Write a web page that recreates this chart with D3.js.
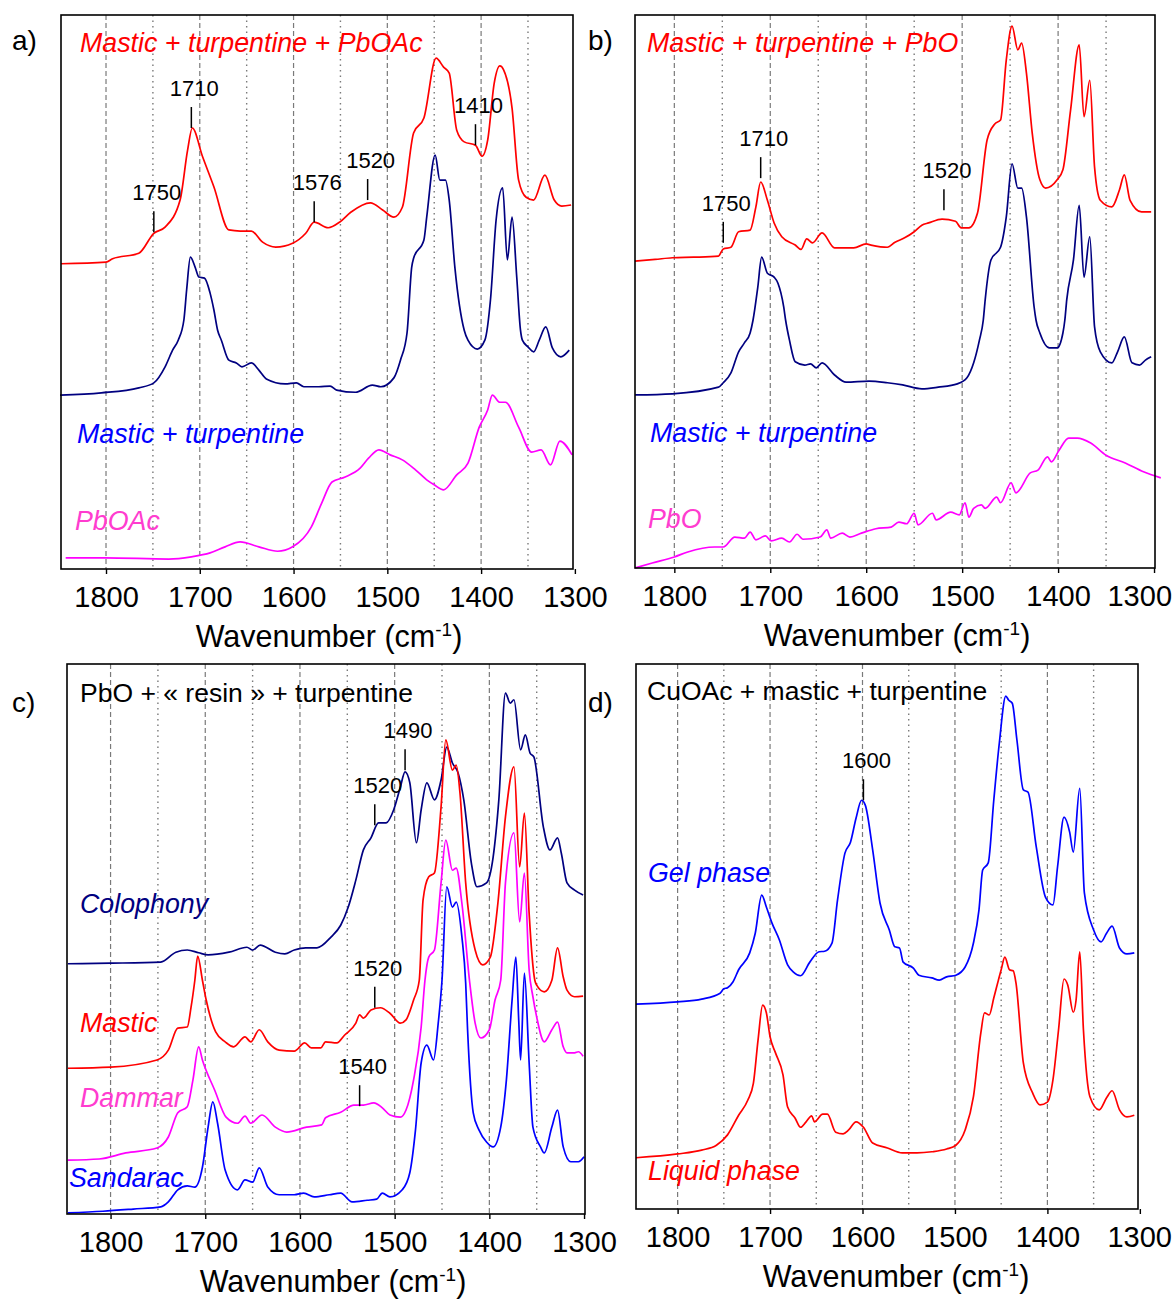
<!DOCTYPE html>
<html>
<head>
<meta charset="utf-8">
<script src="https://cdn.jsdelivr.net/npm/d3@7"></script>
<style>
    body { margin: 0; background: #fff; }
    svg { display: block; font-family: "Liberation Sans", Arial, sans-serif; }
</style>
</head>
<body>
<svg id="chart" width="1176" height="1299"></svg>
<script>
// wavenumber ticks and grid
var wnTicks = [1800, 1700, 1600, 1500, 1400, 1300];
var gridMajor = [1800, 1700, 1600, 1500, 1400];
var gridMinor = [1750, 1650, 1550, 1450, 1350];

// a) [wavenumber, absorbance a.u. with offset]
var aMixPbOAc = [[1848,55.1],[1800,55.4],[1793,56.0],[1765,57.0],[1749,60.6],[1737,61.7],[1721,66.6],[1713,75.6],[1708,79.6],[1697,74.4],[1685,69.0],[1669,61.2],[1657,61.0],[1645,61.0],[1633,59.0],[1619,58.1],[1601,58.8],[1587,60.6],[1578,62.6],[1563,61.6],[1551,62.6],[1539,64.4],[1518,66.1],[1505,64.8],[1493,63.5],[1484,65.3],[1472,78.7],[1461,81.4],[1448,92.2],[1440,90.6],[1434,89.5],[1426,79.2],[1418,77.1],[1406,76.5],[1399,74.5],[1393,77.4],[1386,87.7],[1380,90.8],[1376,90.1],[1367,83.2],[1360,70.2],[1352,67.1],[1344,66.6],[1332,71.1],[1322,66.6],[1314,65.5],[1304,65.7]];
var aMastic = [[1849,31.4],[1805,31.8],[1765,32.7],[1749,33.6],[1737,36.5],[1729,39.5],[1723,41.3],[1717,44.9],[1714,50.4],[1710,56.3],[1705,54.5],[1701,52.7],[1695,52.5],[1689,49.8],[1685,46.8],[1681,43.1],[1677,41.3],[1669,37.7],[1661,37.2],[1655,36.5],[1645,37.2],[1637,35.9],[1629,34.3],[1609,33.4],[1597,33.6],[1589,32.9],[1573,32.9],[1561,33.0],[1554,32.3],[1534,31.9],[1516,33.2],[1507,32.9],[1493,34.5],[1486,37.7],[1479,42.6],[1474,54.5],[1472,56.1],[1461,59.4],[1458,63.5],[1449,74.7],[1444,70.2],[1438,70.2],[1434,66.6],[1428,54.5],[1418,43.1],[1414,41.3],[1404,39.7],[1396,41.3],[1390,48.6],[1384,63.0],[1377,68.8],[1372,55.8],[1367,63.5],[1362,52.7],[1358,43.1],[1356,41.3],[1350,40.1],[1344,39.2],[1338,41.3],[1331,43.7],[1324,39.9],[1315,38.3],[1306,39.5]];
var aPbOAc = [[1843,2.0],[1801,2.0],[1733,1.8],[1709,2.2],[1689,2.9],[1673,4.0],[1657,4.9],[1637,4.0],[1617,3.2],[1601,4.0],[1581,7.6],[1570,11.9],[1559,15.7],[1545,16.6],[1529,18.2],[1520,20.0],[1509,21.5],[1497,20.6],[1484,19.7],[1470,17.9],[1458,16.1],[1450,15.2],[1440,14.3],[1426,17.0],[1414,19.1],[1402,25.6],[1393,28.7],[1388,31.4],[1380,30.1],[1374,30.1],[1360,25.6],[1346,21.1],[1336,21.5],[1326,18.8],[1316,23.1],[1303,20.6]];
// [label, wavenumber, absorbance at tick foot]
var aPeaks = [[1750,1749,60.8],[1710,1709,79.6],[1576,1578,62.6],[1520,1521,66.6],[1410,1406,76.5]];

// b)
var bMixPbO = [[1841,55.5],[1820,55.8],[1802,56.1],[1780,56.2],[1754,56.4],[1749,57.7],[1741,58.0],[1733,60.8],[1721,61.1],[1715,65.3],[1710,69.8],[1703,66.5],[1696,62.4],[1688,59.9],[1674,58.4],[1668,57.6],[1662,59.5],[1656,58.8],[1646,60.6],[1633,57.9],[1613,57.9],[1600,58.6],[1595,58.4],[1578,58.0],[1570,58.9],[1560,59.7],[1550,60.8],[1542,62.0],[1535,62.4],[1521,63.1],[1507,62.7],[1501,61.5],[1493,61.5],[1484,64.2],[1474,77.4],[1466,80.3],[1460,81.0],[1454,91.9],[1448,98.0],[1442,93.7],[1438,94.9],[1433,89.5],[1427,78.7],[1419,70.2],[1413,68.7],[1401,70.2],[1395,72.0],[1387,82.8],[1378,94.6],[1373,81.6],[1367,88.2],[1362,72.5],[1356,66.5],[1344,65.3],[1336,68.4],[1331,71.1],[1325,66.5],[1313,64.4],[1303,64.4]];
var bMastic = [[1841,31.3],[1802,31.5],[1754,32.7],[1749,33.5],[1741,35.3],[1733,39.1],[1727,40.7],[1721,42.5],[1718,44.8],[1713,50.8],[1709,56.2],[1703,53.3],[1696,52.6],[1692,51.5],[1686,47.2],[1684,44.8],[1680,41.2],[1674,37.3],[1664,36.7],[1658,36.9],[1652,36.2],[1646,37.1],[1633,34.9],[1621,33.6],[1597,33.8],[1578,33.5],[1562,33.1],[1542,32.4],[1525,32.7],[1505,33.3],[1495,34.4],[1488,37.1],[1482,41.2],[1478,44.8],[1476,48.5],[1470,55.7],[1460,58.0],[1454,63.5],[1448,73.1],[1442,68.7],[1438,68.7],[1433,63.5],[1425,47.2],[1423,44.8],[1419,42.5],[1409,39.8],[1401,39.8],[1395,42.5],[1393,44.8],[1391,48.5],[1384,55.7],[1378,65.6],[1373,52.6],[1367,59.9],[1362,43.6],[1356,39.1],[1344,37.1],[1338,39.1],[1331,41.8],[1323,37.1],[1315,36.7],[1309,37.6],[1303,38.2]];
var bPbO = [[1841,0.0],[1823,0.9],[1800,2.0],[1786,2.9],[1758,3.8],[1749,3.8],[1737,5.6],[1727,5.4],[1721,6.5],[1715,5.1],[1705,5.8],[1699,4.9],[1688,5.4],[1680,4.7],[1672,6.1],[1666,5.2],[1648,5.6],[1641,6.9],[1637,5.4],[1625,6.3],[1617,5.6],[1605,6.3],[1590,7.1],[1574,7.4],[1566,8.3],[1558,8.0],[1550,9.9],[1546,7.8],[1531,9.9],[1527,8.7],[1512,10.1],[1503,9.6],[1497,11.8],[1493,9.2],[1488,10.8],[1480,11.4],[1476,10.8],[1464,12.8],[1460,11.8],[1449,15.4],[1444,13.6],[1429,17.2],[1421,17.7],[1411,20.1],[1407,19.2],[1399,21.3],[1389,23.5],[1380,23.5],[1366,22.6],[1350,20.4],[1330,19.0],[1311,17.4],[1293,16.3]];
var bPeaks = [[1750,1749,58.8],[1710,1710,70.5],[1520,1519,64.7]];

// c)
var cColophony = [[1845,45.5],[1800,45.6],[1747,45.8],[1731,47.6],[1719,48.0],[1707,47.5],[1697,47.1],[1675,47.6],[1656,48.5],[1650,48.0],[1642,48.9],[1626,47.6],[1616,47.3],[1606,48.0],[1594,48.4],[1582,48.4],[1567,50.4],[1557,52.5],[1549,55.8],[1541,60.7],[1533,66.2],[1525,68.4],[1517,71.1],[1509,71.1],[1501,73.5],[1494,77.6],[1489,80.4],[1484,78.4],[1477,67.5],[1472,73.5],[1466,78.4],[1458,75.3],[1451,78.9],[1445,84.9],[1439,82.0],[1433,80.2],[1427,75.3],[1419,63.8],[1413,59.5],[1403,60.2],[1396,64.9],[1390,75.3],[1383,94.7],[1378,92.9],[1374,93.5],[1367,84.4],[1362,87.1],[1357,83.8],[1353,83.1],[1343,70.4],[1336,66.2],[1328,68.4],[1324,65.6],[1318,60.2],[1310,58.9],[1301,58.0]];
var cMastic = [[1845,26.5],[1800,26.7],[1751,28.0],[1739,29.8],[1729,33.8],[1719,34.0],[1715,37.6],[1711,42.5],[1708,46.9],[1703,42.5],[1699,38.9],[1689,33.1],[1679,31.3],[1670,30.4],[1658,32.2],[1652,31.3],[1643,33.5],[1634,31.3],[1622,29.8],[1606,29.6],[1595,31.1],[1588,30.2],[1578,30.2],[1573,31.3],[1561,31.1],[1553,32.5],[1541,34.7],[1537,36.2],[1533,35.6],[1525,37.1],[1515,37.5],[1505,36.5],[1494,34.7],[1488,35.3],[1480,38.9],[1474,42.5],[1470,57.1],[1464,61.3],[1458,62.0],[1451,74.0],[1446,86.2],[1439,80.7],[1435,81.6],[1431,76.5],[1425,60.2],[1415,48.0],[1407,45.3],[1399,46.7],[1391,56.5],[1383,72.2],[1374,81.3],[1368,63.1],[1363,72.9],[1358,54.7],[1352,42.5],[1350,41.6],[1342,40.4],[1334,42.5],[1328,48.4],[1322,43.1],[1318,40.7],[1310,39.5],[1301,39.6]];
var cDammar = [[1845,9.8],[1812,10.0],[1784,11.1],[1751,12.0],[1739,14.0],[1729,18.4],[1719,19.5],[1713,24.4],[1707,30.4],[1703,28.0],[1690,22.5],[1678,17.6],[1666,16.5],[1658,17.8],[1652,16.5],[1640,18.0],[1626,15.8],[1614,14.9],[1593,15.8],[1577,16.2],[1573,17.5],[1557,18.5],[1543,19.8],[1533,19.8],[1522,20.2],[1513,19.3],[1505,18.0],[1494,17.6],[1488,18.9],[1480,24.4],[1472,34.0],[1468,42.5],[1464,46.7],[1458,48.0],[1451,60.2],[1446,68.0],[1439,62.5],[1435,62.9],[1429,56.5],[1421,42.5],[1415,34.7],[1409,32.0],[1400,33.5],[1394,38.9],[1388,42.5],[1383,60.2],[1374,69.3],[1368,53.1],[1363,62.0],[1358,44.4],[1354,39.5],[1350,35.8],[1342,31.3],[1334,33.5],[1328,34.9],[1322,30.4],[1318,29.3],[1310,29.3],[1306,29.5],[1301,28.7]];
var cSandarac = [[1845,0.2],[1808,0.5],[1776,0.9],[1747,1.3],[1739,2.2],[1729,4.4],[1719,5.1],[1711,4.9],[1703,8.5],[1697,15.8],[1692,20.4],[1687,16.5],[1679,8.0],[1666,4.4],[1658,6.2],[1650,5.8],[1643,8.4],[1634,4.9],[1622,3.5],[1606,3.5],[1596,3.8],[1585,3.1],[1569,3.5],[1557,3.8],[1545,2.2],[1529,2.5],[1519,2.7],[1513,3.8],[1505,3.1],[1492,4.4],[1484,7.5],[1478,15.3],[1472,27.5],[1466,30.7],[1459,28.0],[1454,34.7],[1450,42.5],[1445,59.5],[1439,55.8],[1435,56.7],[1429,50.4],[1425,42.0],[1423,33.5],[1417,18.4],[1411,15.3],[1403,13.1],[1396,12.2],[1388,15.8],[1382,24.4],[1376,38.9],[1372,46.7],[1369,35.3],[1367,28.0],[1363,43.8],[1358,27.5],[1354,15.8],[1346,12.2],[1342,11.1],[1334,15.8],[1328,18.9],[1322,12.2],[1314,9.5],[1306,9.5],[1300,10.4]];
var cPeaks = [[1490,1489,80.7],[1520,1521,70.7],[1520,1521,37.5],[1540,1537,19.6]];

// d)
var dGel = [[1845,37.6],[1800,38.0],[1774,38.5],[1754,39.6],[1750,40.4],[1746,40.6],[1740,41.7],[1734,43.9],[1722,47.0],[1716,50.6],[1709,57.6],[1704,55.4],[1698,52.5],[1690,49.4],[1681,44.8],[1675,43.5],[1667,42.8],[1657,45.3],[1647,47.2],[1641,47.3],[1633,48.8],[1627,56.7],[1619,65.3],[1613,67.3],[1607,71.7],[1601,75.0],[1597,74.1],[1589,65.9],[1581,56.1],[1571,51.2],[1565,48.1],[1560,47.9],[1556,45.3],[1545,44.2],[1539,42.9],[1525,42.4],[1517,42.0],[1509,42.6],[1499,42.9],[1489,44.4],[1480,48.8],[1474,54.9],[1470,62.2],[1464,63.5],[1458,75.0],[1452,85.5],[1445,94.1],[1442,93.4],[1438,92.8],[1433,86.1],[1426,76.9],[1421,76.5],[1412,66.4],[1402,57.2],[1394,55.8],[1389,62.8],[1382,71.9],[1376,69.2],[1372,65.5],[1365,77.2],[1360,58.0],[1350,51.2],[1342,49.0],[1336,50.6],[1330,51.9],[1322,47.9],[1314,46.8],[1306,47.0]];
var dLiquid = [[1845,9.4],[1800,10.1],[1774,10.8],[1758,11.7],[1746,13.6],[1734,17.2],[1724,20.0],[1718,23.1],[1713,31.0],[1708,37.4],[1704,36.0],[1700,31.6],[1694,28.6],[1686,24.6],[1681,18.7],[1673,16.7],[1667,15.0],[1661,16.0],[1655,17.1],[1652,16.0],[1643,17.4],[1638,17.4],[1629,14.1],[1621,13.8],[1615,14.5],[1607,16.0],[1599,15.0],[1589,12.1],[1573,11.2],[1557,10.3],[1541,10.3],[1525,10.5],[1509,11.0],[1499,11.7],[1489,14.5],[1480,20.6],[1472,32.3],[1468,36.0],[1463,35.6],[1458,38.7],[1453,42.0],[1450,43.9],[1446,46.2],[1441,43.9],[1437,43.7],[1434,41.5],[1426,26.8],[1416,21.3],[1408,19.1],[1400,19.6],[1394,23.7],[1388,32.8],[1382,42.2],[1378,41.1],[1372,36.1],[1369,38.3],[1365,47.2],[1361,32.8],[1354,20.6],[1344,18.2],[1336,20.4],[1330,21.7],[1322,18.2],[1314,16.9],[1306,17.2]];
var dPeaks = [[1600,1599,75.0]];

var RED = "#ff0000", NAVY = "#000080", BLUE = "#0000ff", MAGENTA = "#ff00ff", PINK = "#ff3ccf";

var panels = [
    { letter: "a)", letterPos: [12, 50], box: [61, 15, 573, 569], domain: [1848, 1302], titleX: 329,
      series: [[aMixPbOAc, RED], [aMastic, NAVY], [aPbOAc, MAGENTA]],
      labels: [["Mastic + turpentine + PbOAc", 80, 52, RED, true],
               ["Mastic + turpentine", 77, 443, BLUE, true],
               ["PbOAc", 75, 530, PINK, true]],
      peaks: aPeaks },
    { letter: "b)", letterPos: [588, 50], box: [635, 15, 1155, 568], domain: [1841, 1299], titleX: 897,
      series: [[bMixPbO, RED], [bMastic, NAVY], [bPbO, MAGENTA]],
      labels: [["Mastic + turpentine + PbO", 647, 52, RED, true],
               ["Mastic + turpentine", 650, 442, BLUE, true],
               ["PbO", 648, 528, PINK, true]],
      peaks: bPeaks },
    { letter: "c)", letterPos: [12, 712], box: [67, 664, 585, 1214], domain: [1846, 1299], titleX: 333,
      series: [[cColophony, NAVY], [cMastic, RED], [cDammar, MAGENTA], [cSandarac, BLUE]],
      labels: [["PbO + \u00ab resin \u00bb + turpentine", 80, 702, "#000", false],
               ["Colophony", 80, 913, NAVY, true],
               ["Mastic", 80, 1032, RED, true],
               ["Dammar", 80, 1107, PINK, true],
               ["Sandarac", 69, 1187, BLUE, true]],
      peaks: cPeaks },
    { letter: "d)", letterPos: [588, 712], box: [636, 664, 1138, 1209], domain: [1845, 1302], titleX: 896,
      series: [[dGel, BLUE], [dLiquid, RED]],
      labels: [["CuOAc + mastic + turpentine", 647, 700, "#000", false],
               ["Gel phase", 648, 882, BLUE, true],
               ["Liquid phase", 648, 1180, RED, true]],
      peaks: dPeaks }
];

var svg = d3.select("#chart");

panels.forEach(function(p) {
    var x0 = p.box[0], y0 = p.box[1], x1 = p.box[2], y1 = p.box[3];
    var x = d3.scaleLinear().domain(p.domain).range([x0, x1]);
    var y = d3.scaleLinear().domain([0, 100]).range([y1, y0]);
    var g = svg.append("g");

    // grid
    g.selectAll(".gmaj").data(gridMajor).enter().append("line")
        .attr("x1", function(d) { return x(d); }).attr("x2", function(d) { return x(d); })
        .attr("y1", y0).attr("y2", y1)
        .attr("stroke", "#7a7a7a").attr("stroke-width", 1.2).attr("stroke-dasharray", "5,3");
    g.selectAll(".gmin").data(gridMinor).enter().append("line")
        .attr("x1", function(d) { return x(d); }).attr("x2", function(d) { return x(d); })
        .attr("y1", y0).attr("y2", y1)
        .attr("stroke", "#7a7a7a").attr("stroke-width", 1.4).attr("stroke-dasharray", "1.5,4");

    // spectra
    var line = d3.line()
        .curve(d3.curveMonotoneX)
        .x(function(d) { return x(d[0]); })
        .y(function(d) { return y(d[1]); });
    p.series.forEach(function(s) {
        g.append("path").datum(s[0])
            .attr("d", line)
            .attr("fill", "none")
            .attr("stroke", s[1])
            .attr("stroke-width", 1.7)
            .attr("stroke-linejoin", "round");
    });

    // peak markers
    var pk = g.selectAll(".pk").data(p.peaks).enter().append("g");
    pk.append("line")
        .attr("x1", function(d) { return x(d[1]); }).attr("x2", function(d) { return x(d[1]); })
        .attr("y1", function(d) { return y(d[2]) - 21; }).attr("y2", function(d) { return y(d[2]); })
        .attr("stroke", "#000").attr("stroke-width", 1.5);
    pk.append("text")
        .attr("x", function(d) { return x(d[1]) + 3; })
        .attr("y", function(d) { return y(d[2]) - 32; })
        .attr("text-anchor", "middle")
        .attr("font-size", 22)
        .text(function(d) { return d[0]; });

    // frame
    g.append("rect")
        .attr("x", x0).attr("y", y0)
        .attr("width", x1 - x0).attr("height", y1 - y0)
        .attr("fill", "none").attr("stroke", "#000").attr("stroke-width", 1.6);

    // axis
    var axis = d3.axisBottom(x).tickValues(wnTicks).tickSize(5).tickSizeOuter(0).tickPadding(12)
        .tickFormat(d3.format("d"));
    var ax = g.append("g").attr("transform", "translate(0," + y1 + ")").call(axis);
    ax.select(".domain").remove();
    ax.selectAll(".tick line").attr("stroke", "#000").attr("stroke-width", 1.4);
    ax.selectAll("text").attr("font-size", 29).attr("fill", "#000")
        .attr("font-family", "Liberation Sans, Arial, sans-serif")
        .each(function() {
            // keep the last label inside the page
            var b = this.getBBox();
            var tx = this.parentNode.transform.baseVal.consolidate().matrix.e;
            var over = tx + b.x + b.width - 1172;
            if (over > 0) d3.select(this).attr("dx", -over);
        });

    var title = g.append("text")
        .attr("x", p.titleX).attr("y", y1 + 78)
        .attr("text-anchor", "middle").attr("font-size", 30.5);
    title.append("tspan").text("Wavenumber (cm");
    title.append("tspan").attr("font-size", 19).attr("dy", -11).text("-1");
    title.append("tspan").attr("dy", 11).text(")");

    // labels
    p.labels.forEach(function(l) {
        g.append("text")
            .attr("x", l[1]).attr("y", l[2])
            .attr("fill", l[3])
            .attr("font-size", l[4] ? 26.8 : 26.5)
            .attr("font-style", l[4] ? "italic" : "normal")
            .text(l[0]);
    });

    svg.append("text")
        .attr("x", p.letterPos[0]).attr("y", p.letterPos[1])
        .attr("font-size", 28)
        .text(p.letter);
});
</script>
</body>
</html>
